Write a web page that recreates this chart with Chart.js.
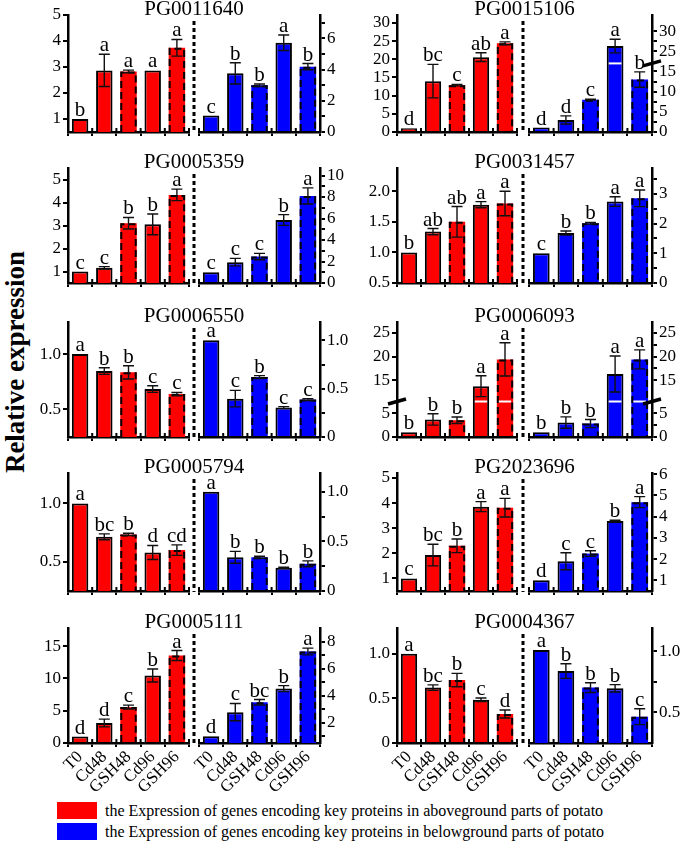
<!DOCTYPE html>
<html>
<head>
<meta charset="utf-8">
<script src="https://cdn.jsdelivr.net/npm/chart.js@4.4.0/dist/chart.umd.min.js"></script>
<style>
  body { margin: 0; background: #fff; width: 685px; height: 844px; position: relative; overflow: hidden; font-family: "Liberation Serif", "Times New Roman", serif; }
  canvas { position: absolute; }
  .title { position: absolute; width: 200px; text-align: center; font-size: 21px; line-height: 21px; color: #000; white-space: nowrap; }
  .ylab { position: absolute; left: 15px; top: 362px; transform: translate(-50%, -50%) rotate(-90deg); font-weight: bold; font-size: 27px; white-space: nowrap; }
  .leg { position: absolute; left: 57px; height: 17px; font-size: 16px; line-height: 17px; white-space: nowrap; }
  .leg span { display: inline-block; width: 40px; height: 17px; vertical-align: top; margin-right: 8px; }
</style>
</head>
<body>
<div class="ylab">Relative expression</div>
<div class="leg" style="top:802px"><span style="background:#ff0000"></span>the Expression of genes encoding key proteins in aboveground parts of potato</div>
<div class="leg" style="top:823px"><span style="background:#0000ff"></span>the Expression of genes encoding key proteins in belowground parts of potato</div>
<script>
// treatments and which bars get a dashed outline
var groups = ['T0', 'Cd48', 'GSH48', 'Cd96', 'GSH96'];
var dashedBars = [false, false, true, false, true];
var genes = ['PG0011640', 'PG0015106', 'PG0005359', 'PG0031457', 'PG0006550',
             'PG0006093', 'PG0005794', 'PG2023696', 'PG0005111', 'PG0004367'];

// PG0011640
var red1 = [1.0, 2.87, 2.83, 2.87, 3.74];
var redErr1 = [0, 0.62, 0.05, 0, 0.32];
var redSig1 = ['b', 'a', 'a', 'a', 'a'];
var blue1 = [1.05, 3.76, 3.0, 5.72, 4.19];
var blueErr1 = [0, 0.68, 0.08, 0.5, 0.2];
var blueSig1 = ['c', 'b', 'b', 'a', 'b'];

// PG0015106
var red2 = [1.0, 14.0, 12.9, 20.6, 24.4];
var redErr2 = [0, 4.6, 0.2, 1.2, 0.4];
var redSig2 = ['d', 'bc', 'c', 'ab', 'a'];
var blue2 = [1.1, 3.0, 8.0, 26.3, 13.0];
var blueErr2 = [0, 1.0, 0.1, 1.7, 1.9];
var blueSig2 = ['d', 'd', 'c', 'a', 'b'];

// PG0005359
var red3 = [1.0, 1.16, 3.1, 3.05, 4.33];
var redErr3 = [0, 0.05, 0.25, 0.45, 0.25];
var redSig3 = ['c', 'c', 'b', 'b', 'a'];
var blue3 = [1.0, 1.94, 2.46, 5.86, 8.1];
var blueErr3 = [0, 0.35, 0.3, 0.5, 0.75];
var blueSig3 = ['c', 'c', 'c', 'b', 'a'];

// PG0031457
var red4 = [1.0, 1.34, 1.5, 1.78, 1.8];
var redErr4 = [0, 0.05, 0.25, 0.05, 0.2];
var redSig4 = ['b', 'ab', 'ab', 'a', 'a'];
var blue4 = [1.0, 1.68, 2.01, 2.74, 2.85];
var blueErr4 = [0, 0.07, 0.03, 0.16, 0.28];
var blueSig4 = ['c', 'b', 'b', 'a', 'a'];

// PG0006550
var red5 = [1.0, 0.846, 0.835, 0.684, 0.638];
var redErr5 = [0, 0.03, 0.06, 0.03, 0.015];
var redSig5 = ['a', 'b', 'b', 'c', 'c'];
var blue5 = [1.0, 0.397, 0.62, 0.304, 0.387];
var blueErr5 = [0, 0.085, 0.015, 0.01, 0.01];
var blueSig5 = ['a', 'c', 'b', 'c', 'c'];

// PG0006093
var red6 = [1.0, 3.7, 3.54, 13.74, 19.4];
var redErr6 = [0, 1.2, 0.7, 2.2, 3.5];
var redSig6 = ['b', 'b', 'b', 'a', 'a'];
var blue6 = [1.0, 3.05, 2.84, 16.3, 19.4];
var blueErr6 = [0, 1.2, 0.85, 3.8, 2.0];
var blueSig6 = ['b', 'b', 'b', 'a', 'a'];

// PG0005794
var red7 = [1.0, 0.714, 0.734, 0.58, 0.6];
var redErr7 = [0, 0.025, 0.01, 0.06, 0.045];
var redSig7 = ['a', 'bc', 'b', 'd', 'cd'];
var blue7 = [1.0, 0.34, 0.34, 0.234, 0.274];
var blueErr7 = [0, 0.06, 0.01, 0.005, 0.03];
var blueSig7 = ['a', 'b', 'b', 'b', 'b'];

// PG2023696
var red8 = [1.0, 1.93, 2.3, 3.86, 3.82];
var redErr8 = [0, 0.43, 0.27, 0.2, 0.37];
var redSig8 = ['c', 'bc', 'b', 'a', 'a'];
var blue8 = [1.0, 1.9, 2.26, 3.79, 4.68];
var blueErr8 = [0, 0.4, 0.13, 0.04, 0.26];
var blueSig8 = ['d', 'c', 'c', 'b', 'a'];

// PG0005111
var red9 = [1.0, 3.09, 5.56, 10.45, 13.54];
var redErr9 = [0, 0.6, 0.3, 1.0, 0.77];
var redSig9 = ['d', 'd', 'c', 'b', 'a'];
var blue9 = [1.0, 2.78, 3.51, 4.52, 7.26];
var blueErr9 = [0, 0.64, 0.2, 0.22, 0.25];
var blueSig9 = ['d', 'c', 'bc', 'b', 'a'];

// PG0004367
var red10 = [1.0, 0.622, 0.706, 0.485, 0.325];
var redErr10 = [0, 0.03, 0.075, 0.02, 0.045];
var redSig10 = ['a', 'bc', 'b', 'c', 'd'];
var blue10 = [1.01, 0.838, 0.703, 0.697, 0.465];
var blueErr10 = [0, 0.06, 0.04, 0.03, 0.065];
var blueSig10 = ['a', 'b', 'b', 'b', 'c'];

// tick labels (minor = unlabelled tick marks)
var ticksOneToFive = [1, 2, 3, 4, 5];
var ticksTenths = [0.5, 1.0];
var ticksZeroTenths = [0, 0.5, 1.0];
var minorQuarter = [0.25, 0.75];
var ticks1Blue = [0, 2, 4, 6], minor1Blue = [1, 3, 5, 7];
var ticks2Red = [0, 5, 10, 15, 20, 25, 30];
var ticks2Blue = [0, 5, 10, 15, 25, 30], minor2Blue = [2.5, 7.5, 12.5, 27.5];
var ticks3Blue = [0, 2, 4, 6, 8, 10], minor3Blue = [1, 3, 5, 7, 9];
var ticks4Red = [0.5, 1.0, 1.5, 2.0];
var ticks4Blue = [0, 1, 2, 3], minor4Blue = [0.5, 1.5, 2.5, 3.5];
var ticks6 = [0, 5, 15, 20, 25], minor6Blue = [2.5, 17.5, 22.5];
var ticks8Blue = [1, 2, 3, 4, 5, 6];
var ticks9Red = [0, 5, 10, 15];
var ticks9Blue = [2, 4, 6, 8], minor9Blue = [1, 3, 5, 7];

var panels = [
  { red: { vals: red1, err: redErr1, sig: redSig1, min: 0.5, max: 5, ticks: ticksOneToFive },
    blue: { vals: blue1, err: blueErr1, sig: blueSig1, min: 0, max: 7.5, ticks: ticks1Blue, minor: minor1Blue } },
  { red: { vals: red2, err: redErr2, sig: redSig2, min: 0, max: 32.2, ticks: ticks2Red },
    blue: { vals: blue2, err: blueErr2, sig: blueSig2, min: 0, max: 34, ticks: ticks2Blue, minor: minor2Blue, brk: [17, 22] } },
  { red: { vals: red3, err: redErr3, sig: redSig3, min: 0.5, max: 5.5, ticks: ticksOneToFive },
    blue: { vals: blue3, err: blueErr3, sig: blueSig3, min: 0, max: 10.7, ticks: ticks3Blue, minor: minor3Blue } },
  { red: { vals: red4, err: redErr4, sig: redSig4, min: 0.5, max: 2.38, ticks: ticks4Red, dec: 1 },
    blue: { vals: blue4, err: blueErr4, sig: blueSig4, min: 0, max: 3.87, ticks: ticks4Blue, minor: minor4Blue } },
  { red: { vals: red5, err: redErr5, sig: redSig5, min: 0.25, max: 1.29, ticks: ticksTenths, dec: 1 },
    blue: { vals: blue5, err: blueErr5, sig: blueSig5, min: 0, max: 1.19, ticks: ticksZeroTenths, minor: minorQuarter, dec: 1 } },
  { red: { vals: red6, err: redErr6, sig: redSig6, min: 0, max: 27.3, ticks: ticks6, brk: [7.5, 10.5] },
    blue: { vals: blue6, err: blueErr6, sig: blueSig6, min: 0, max: 27.3, ticks: ticks6, minor: minor6Blue, brk: [7.5, 10.5] } },
  { red: { vals: red7, err: redErr7, sig: redSig7, min: 0.25, max: 1.26, ticks: ticksTenths, dec: 1 },
    blue: { vals: blue7, err: blueErr7, sig: blueSig7, min: 0, max: 1.19, ticks: ticksZeroTenths, minor: minorQuarter, dec: 1 } },
  { red: { vals: red8, err: redErr8, sig: redSig8, min: 0.5, max: 5.2, ticks: ticksOneToFive },
    blue: { vals: blue8, err: blueErr8, sig: blueSig8, min: 0.5, max: 6.05, ticks: ticks8Blue } },
  { red: { vals: red9, err: redErr9, sig: redSig9, min: 0, max: 17.8, ticks: ticks9Red },
    blue: { vals: blue9, err: blueErr9, sig: blueSig9, min: 0.5, max: 9.0, ticks: ticks9Blue, minor: minor9Blue } },
  { red: { vals: red10, err: redErr10, sig: redSig10, min: 0, max: 1.29, ticks: ticksZeroTenths, dec: 1 },
    blue: { vals: blue10, err: blueErr10, sig: blueSig10, min: 0.25, max: 1.19, ticks: ticksTenths, minor: [0.75], dec: 1 } }
];

// layout
var cols = [
  { leftAxis: 68, leftEnd: 189, rightStart: 199, rightAxis: 320 },
  { leftAxis: 397, leftEnd: 517, rightStart: 529, rightAxis: 652 }
];
var rows = [[15, 132], [168, 283], [322, 437], [473, 591], [628, 743]];
var FONT = '"Liberation Serif", "Times New Roman", serif';
var Y_LEFT_W = 64, Y_RIGHT_W = 34, PAD_TOP = 14, PAD_SEP = 10, PAD_RIGHT_CHART = 14;

// broken axis: values above the gap are shifted down
function tf(ax, v) {
  if (!ax.brk) return v;
  return v <= ax.brk[0] ? v : v - (ax.brk[1] - ax.brk[0]);
}

function fmt(ax, v) {
  if (v === 0) return '0';
  return v.toFixed(ax.dec || 0);
}

function marksPlugin(ax, isLeft, sepOffset) {
  return {
    id: 'marks',
    afterDatasetsDraw: function (chart) {
      var ctx = chart.ctx, ys = chart.scales.y, ca = chart.chartArea;
      var bars = chart.getDatasetMeta(0).data;
      ctx.save();
      bars.forEach(function (bar, i) {
        var hw = bar.width / 2, l = bar.x - hw, r = bar.x + hw;
        var base = Math.min(bar.base, ca.bottom);
        if (dashedBars[i]) {
          ctx.strokeStyle = '#000';
          ctx.lineWidth = 2;
          ctx.setLineDash([7, 4]);
          ctx.beginPath();
          ctx.moveTo(l + 1, base);
          ctx.lineTo(l + 1, bar.y + 1);
          ctx.lineTo(r - 1, bar.y + 1);
          ctx.lineTo(r - 1, base);
          ctx.stroke();
          ctx.setLineDash([]);
        }
        if (ax.brk && ax.vals[i] > ax.brk[1]) {
          var by = ys.getPixelForValue(ax.brk[0]);
          ctx.strokeStyle = '#fff';
          ctx.lineWidth = 2;
          ctx.beginPath();
          ctx.moveTo(l + 2, by);
          ctx.lineTo(r - 2, by);
          ctx.stroke();
        }
        var top = bar.y;
        var e = ax.err[i];
        if (e > 0) {
          var y1 = ys.getPixelForValue(tf(ax, ax.vals[i] + e));
          var y2 = ys.getPixelForValue(tf(ax, ax.vals[i] - e));
          ctx.strokeStyle = '#111';
          ctx.lineWidth = 1.4;
          ctx.beginPath();
          ctx.moveTo(bar.x, y1); ctx.lineTo(bar.x, y2);
          ctx.moveTo(bar.x - 5.5, y1); ctx.lineTo(bar.x + 5.5, y1);
          ctx.moveTo(bar.x - 5.5, y2); ctx.lineTo(bar.x + 5.5, y2);
          ctx.stroke();
          top = Math.min(top, y1);
        }
        ctx.fillStyle = '#000';
        ctx.font = '21px ' + FONT;
        ctx.textAlign = 'center';
        ctx.textBaseline = 'alphabetic';
        ctx.fillText(ax.sig[i], bar.x, top - 3);
      });
      ctx.restore();
    },
    afterDraw: function (chart) {
      var ctx = chart.ctx, xs = chart.scales.x, ys = chart.scales.y, ca = chart.chartArea;
      ctx.save();
      ctx.strokeStyle = '#000';
      // x ticks also poke up into the plot
      ctx.lineWidth = 2;
      ctx.beginPath();
      for (var k = 0; k <= groups.length; k++) {
        var gx = xs.getPixelForValue(k - 0.5);
        ctx.moveTo(gx, xs.top);
        ctx.lineTo(gx, xs.top - 4);
      }
      ctx.stroke();
      if (ax.brk) {
        var by = ys.getPixelForValue(ax.brk[0]);
        var axX = isLeft ? ys.right : ys.left;
        ctx.lineWidth = 3.5;
        ctx.beginPath();
        ctx.moveTo(axX - 9, by + 2.5);
        ctx.lineTo(axX + 9, by - 2.5);
        ctx.stroke();
      }
      if (isLeft) {
        var sx = ca.right + sepOffset;
        ctx.lineWidth = 3;
        ctx.setLineDash([4, 3]);
        ctx.beginPath();
        ctx.moveTo(sx, ca.top + 6);
        ctx.lineTo(sx, ca.bottom + 1);
        ctx.stroke();
      }
      ctx.restore();
    }
  };
}

function makeChart(ax, isLeft, color, box, xH, showLabels, sepOffset) {
  var cv = document.createElement('canvas');
  cv.width = box.w;
  cv.height = box.h;
  cv.style.left = box.x + 'px';
  cv.style.top = box.y + 'px';
  document.body.appendChild(cv);
  var yW = isLeft ? Y_LEFT_W : Y_RIGHT_W;
  new Chart(cv.getContext('2d'), {
    type: 'bar',
    data: {
      labels: groups,
      datasets: [{
        data: ax.vals.map(function (v) { return tf(ax, v); }),
        backgroundColor: color,
        borderColor: '#000',
        borderWidth: dashedBars.map(function (d) { return d ? 0 : 2; }),
        borderSkipped: 'bottom',
        barPercentage: 0.68,
        categoryPercentage: 1
      }]
    },
    options: {
      responsive: false,
      animation: false,
      devicePixelRatio: 1,
      layout: { padding: { top: PAD_TOP, right: isLeft ? PAD_SEP : 0, left: isLeft ? 0 : PAD_RIGHT_CHART, bottom: 0 } },
      plugins: { legend: { display: false }, tooltip: { enabled: false } },
      scales: {
        x: {
          type: 'category',
          offset: true,
          grid: { offset: true, drawOnChartArea: false, drawTicks: true, tickLength: 4, color: '#000', lineWidth: 2 },
          border: { color: '#000', width: 2.5 },
          ticks: { display: showLabels, autoSkip: false, maxRotation: 45, minRotation: 45, padding: 0,
                   color: '#000', font: { family: FONT, size: 17 } },
          afterFit: function (s) { s.height = xH; s.paddingLeft = 0; s.paddingRight = 0; }
        },
        y: {
          position: isLeft ? 'left' : 'right',
          min: tf(ax, ax.min),
          max: tf(ax, ax.max),
          afterBuildTicks: function (s) {
            var all = ax.ticks.concat(ax.minor || []).map(function (v) { return tf(ax, v); });
            all.sort(function (a, b) { return a - b; });
            s.ticks = all.map(function (v) { return { value: v }; });
          },
          afterFit: function (s) { s.width = yW; s.paddingTop = 0; s.paddingBottom = 0; },
          grid: { drawOnChartArea: false, drawTicks: true, tickLength: 5, color: '#000', lineWidth: 2 },
          border: { color: '#000', width: 2.5 },
          ticks: {
            autoSkip: false, padding: 2, color: '#000', font: { family: FONT, size: 17 },
            callback: function (value) {
              for (var j = 0; j < ax.ticks.length; j++) {
                if (Math.abs(tf(ax, ax.ticks[j]) - value) < 1e-6) return fmt(ax, ax.ticks[j]);
              }
              return '';
            }
          }
        }
      }
    },
    plugins: [marksPlugin(ax, isLeft, sepOffset)]
  });
}

panels.forEach(function (p, n) {
  var col = cols[n % 2], row = rows[Math.floor(n / 2)];
  var last = Math.floor(n / 2) === rows.length - 1;
  var xH = last ? 62 : 8;
  var h = PAD_TOP + (row[1] - row[0]) + xH;
  var sep = (col.rightStart + col.leftEnd) / 2 - col.leftEnd;

  makeChart(p.red, true, '#ff0000',
    { x: col.leftAxis - Y_LEFT_W, y: row[0] - PAD_TOP, w: Y_LEFT_W + (col.leftEnd - col.leftAxis) + PAD_SEP, h: h },
    xH, last, sep);
  makeChart(p.blue, false, '#0000ff',
    { x: col.rightStart - PAD_RIGHT_CHART, y: row[0] - PAD_TOP, w: PAD_RIGHT_CHART + (col.rightAxis - col.rightStart) + Y_RIGHT_W, h: h },
    xH, last, 0);

  var t = document.createElement('div');
  t.className = 'title';
  t.textContent = genes[n];
  t.style.left = ((col.leftAxis + col.rightAxis) / 2 - 100) + 'px';
  t.style.top = (row[0] + 1 - 17.6) + 'px';
  document.body.appendChild(t);
});
</script>
</body>
</html>
